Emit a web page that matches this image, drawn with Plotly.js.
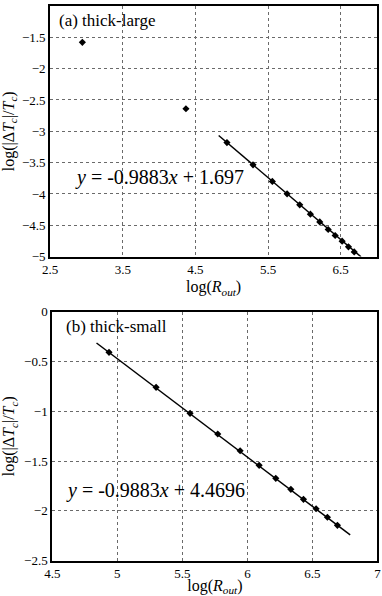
<!DOCTYPE html>
<html>
<head>
<meta charset="utf-8">
<script src="https://cdn.plot.ly/plotly-3.0.1.min.js"></script>
<style>
  html, body { margin: 0; padding: 0; background: #fff; }
  #plot { width: 382px; height: 596px; }
</style>
</head>
<body>
<div id="plot"></div>
<script>
// (a) thick-large
var xLarge = [2.943, 4.369, 4.934, 5.293, 5.559, 5.762, 5.936, 6.083, 6.212, 6.328, 6.424, 6.520, 6.607, 6.686];
var yLarge = [-1.58, -2.64, -3.18, -3.535, -3.80, -3.998, -4.174, -4.323, -4.446, -4.567, -4.663, -4.754, -4.845, -4.925];
var fitLargeX = [4.82, 6.78];
var fitLargeY = [-3.067, -5.004];

// (b) thick-small
var xSmall = [4.936, 5.298, 5.559, 5.772, 5.944, 6.090, 6.218, 6.334, 6.431, 6.528, 6.615, 6.692];
var ySmall = [-0.408, -0.759, -1.02, -1.228, -1.396, -1.542, -1.673, -1.783, -1.884, -1.978, -2.064, -2.145];
var fitSmallX = [4.84, 6.79];
var fitSmallY = [-0.314, -2.241];

var serif = 'Liberation Serif, Times New Roman, serif';

var marker = {symbol: 'diamond', size: 5.5, color: 'black'};
var lineStyle = {color: 'black', width: 1.5};

var data = [
  {x: fitLargeX, y: fitLargeY, mode: 'lines', line: lineStyle, xaxis: 'x', yaxis: 'y'},
  {x: xLarge, y: yLarge, mode: 'markers', marker: marker, xaxis: 'x', yaxis: 'y'},
  {x: fitSmallX, y: fitSmallY, mode: 'lines', line: lineStyle, xaxis: 'x2', yaxis: 'y2'},
  {x: xSmall, y: ySmall, mode: 'markers', marker: marker, xaxis: 'x2', yaxis: 'y2'}
];

function axis(extra) {
  var a = {
    showline: true,
    mirror: true,
    linecolor: 'black',
    linewidth: 2,
    showgrid: true,
    gridcolor: '#6a6a6a',
    griddash: '3px,3px',
    gridwidth: 1,
    zeroline: false,
    ticks: '',
    tickfont: {family: serif, size: 13, color: 'black'},
    fixedrange: true
  };
  for (var k in extra) a[k] = extra[k];
  return a;
}

var xTitle = {text: 'log(<i>R<sub>out</sub></i>)', font: {family: serif, size: 16, color: 'black'}, standoff: 5};
var yTitle = {text: 'log(|Δ<i>T<sub>c</sub></i>|/<i>T<sub>c</sub></i>)', font: {family: serif, size: 16, color: 'black'}, standoff: 5};

var layout = {
  width: 382,
  height: 596,
  margin: {l: 0, r: 0, t: 0, b: 0},
  paper_bgcolor: 'white',
  plot_bgcolor: 'white',
  showlegend: false,
  xaxis: axis({domain: [0.1314, 0.9869], range: [2.5, 7], tick0: 2.5, dtick: 1, anchor: 'y', title: xTitle}),
  yaxis: axis({domain: [0.5695, 0.9899], range: [-5, -1], dtick: 0.5, anchor: 'x', title: yTitle}),
  xaxis2: axis({domain: [0.1369, 0.9882], range: [4.5, 7], dtick: 0.5, anchor: 'y2', title: xTitle}),
  yaxis2: axis({domain: [0.0592, 0.4770], range: [-2.5, 0], dtick: 0.5, anchor: 'x2', title: yTitle}),
  annotations: [
    {text: '(a) thick-large', xref: 'x', yref: 'y', x: 2.6, y: -1.23, xanchor: 'left', showarrow: false,
     font: {family: serif, size: 17, color: 'black'}},
    {text: '<i>y</i> = -0.9883<i>x</i> + 1.697', xref: 'x', yref: 'y', x: 2.82, y: -3.73, xanchor: 'left', showarrow: false,
     font: {family: serif, size: 20, color: 'black'}},
    {text: '(b) thick-small', xref: 'x2', yref: 'y2', x: 4.59, y: -0.15, xanchor: 'left', showarrow: false,
     font: {family: serif, size: 17, color: 'black'}},
    {text: '<i>y</i> = -0.9883<i>x</i> + 4.4696', xref: 'x2', yref: 'y2', x: 4.59, y: -1.80, xanchor: 'left', showarrow: false,
     font: {family: serif, size: 20, color: 'black'}}
  ]
};

Plotly.newPlot('plot', data, layout, {staticPlot: true});
</script>
</body>
</html>
